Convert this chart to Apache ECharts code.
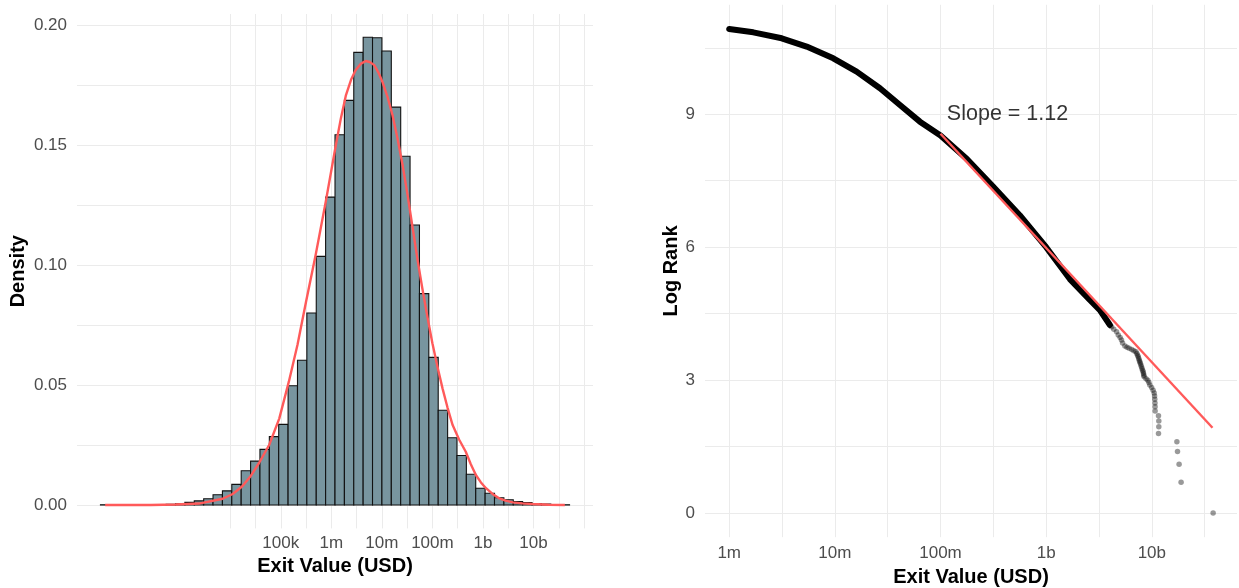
<!DOCTYPE html>
<html>
<head>
<meta charset="utf-8">
<script src="https://cdn.jsdelivr.net/npm/echarts@6/dist/echarts.min.js"></script>
<style>
    html, body { margin: 0; padding: 0; background: #ffffff; }
    #chart { width: 1239px; height: 588px; }
</style>
</head>
<body>
<div id="chart"></div>
<script>
// ---- left panel: histogram of exit values (x in log10 USD, density per ln unit)
const binWidth = 0.1856
const binCenters = [
    1.526, 1.712, 1.897, 2.083, 2.268, 2.454, 2.640, 2.825, 3.011, 3.196,
    3.382, 3.568, 3.753, 3.939, 4.124, 4.310, 4.496, 4.681, 4.867, 5.052,
    5.238, 5.424, 5.609, 5.795, 5.980, 6.166, 6.352, 6.537, 6.723, 6.908,
    7.094, 7.280, 7.465, 7.651, 7.836, 8.022, 8.208, 8.393, 8.579, 8.764,
    8.950, 9.136, 9.321, 9.507, 9.692, 9.878, 10.064, 10.249, 10.435, 10.620
]
const binDensity = [
    0.0001, 0, 0, 0, 0, 0, 0.0002, 0.0003, 0.0005, 0.0011,
    0.0017, 0.0026, 0.0043, 0.0059, 0.0086, 0.0143, 0.0183, 0.0232, 0.0285, 0.0336,
    0.0497, 0.0603, 0.0800, 0.1036, 0.1283, 0.1543, 0.1686, 0.1886, 0.1949, 0.1947,
    0.1892, 0.1658, 0.1453, 0.1167, 0.0881, 0.0615, 0.0395, 0.0280, 0.0206, 0.0128,
    0.0070, 0.0049, 0.0030, 0.0022, 0.0014, 0.0010, 0.0006, 0.0004, 0.0002, 0.0001
]
// fitted density curve
const fitX = [1.526, 2.43, 2.92, 3.38, 3.85, 4.05, 4.24, 4.41, 4.57, 4.77, 4.97, 5.16, 5.33, 5.50, 5.69, 5.89,
    6.09, 6.19, 6.29, 6.39, 6.48, 6.58, 6.68, 6.76, 6.85, 6.93, 7.01, 7.11, 7.21, 7.31, 7.41, 7.51, 7.61,
    7.70, 7.80, 7.90, 8.00, 8.10, 8.20, 8.30, 8.40, 8.53, 8.66, 8.76, 8.86, 8.96, 9.06, 9.19, 9.32,
    9.45, 9.59, 9.78, 9.98, 10.3, 10.62]
const fitY = [0, 0.00003, 0.0002, 0.0006, 0.0026, 0.0046, 0.0078, 0.0122, 0.0175, 0.025, 0.036, 0.0514, 0.0667, 0.0847, 0.1042, 0.1264,
    0.150, 0.1612, 0.1708, 0.1772, 0.1812, 0.1838, 0.185, 0.1846, 0.1833, 0.1803, 0.1764, 0.1702, 0.1625, 0.1527, 0.1417, 0.1290, 0.1153,
    0.1030, 0.0903, 0.0785, 0.0674, 0.0576, 0.0486, 0.0405, 0.0333, 0.0272, 0.0222, 0.0170, 0.0125, 0.0094, 0.0070, 0.0046, 0.0028,
    0.0018, 0.0011, 0.0007, 0.0004, 0.0001, 0]

const histTicks = [5, 6, 7, 8, 9, 10]
const histTickLabels = ['100k', '1m', '10m', '100m', '1b', '10b']
const histGridX = [4, 4.5, 5, 5.5, 6, 6.5, 7, 7.5, 8, 8.5, 9, 9.5, 10, 10.5, 11]
const densityTicks = [0, 0.05, 0.1, 0.15, 0.2]
const densityGrid = [0, 0.025, 0.05, 0.075, 0.1, 0.125, 0.15, 0.175, 0.2]

// ---- right panel: log rank vs exit value (x in log10 USD)
const bandX = [6.0, 6.228, 6.497, 6.733, 6.985, 7.206, 7.427, 7.616, 7.805, 8.0,
    8.25, 8.5, 8.75, 9.0, 9.224, 9.413, 9.508, 9.603]
const bandY = [10.925, 10.85, 10.715, 10.527, 10.264, 9.963, 9.587, 9.21, 8.833, 8.52,
    7.99, 7.36, 6.72, 6.0, 5.28, 4.808, 4.582, 4.244]
const tailX = [9.619, 9.64, 9.666, 9.682, 9.70, 9.713, 9.723, 9.745, 9.765, 9.785, 9.81, 9.83, 9.849,
    9.858, 9.865, 9.871, 9.876, 9.881, 9.886, 9.891, 9.896, 9.902, 9.907, 9.912, 9.918, 9.921,
    9.924, 9.927, 9.945, 9.962, 9.972, 9.981, 9.998, 10.012, 10.022, 10.026, 10.028, 10.030,
    10.031, 10.031, 10.063, 10.066, 10.066, 10.063, 10.237, 10.243, 10.258, 10.277, 10.58]
const tailY = [4.206, 4.15, 4.093, 4.018, 3.96, 3.905, 3.84, 3.77, 3.74, 3.718, 3.69, 3.665, 3.641,
    3.60, 3.56, 3.528, 3.49, 3.45, 3.415, 3.38, 3.34, 3.302, 3.26, 3.225, 3.19, 3.15,
    3.11, 3.077, 3.03, 2.996, 2.944, 2.89, 2.833, 2.773, 2.708, 2.639, 2.565, 2.485,
    2.398, 2.303, 2.197, 2.079, 1.946, 1.792, 1.609, 1.386, 1.099, 0.693, 0]
const slopeLineX = [8.0, 10.574]
const slopeLineY = [8.56, 1.925]
const slopeText = 'Slope = 1.12'

const rankTicks = [6, 7, 8, 9, 10]
const rankTickLabels = ['1m', '10m', '100m', '1b', '10b']
const rankGridX = [6, 6.5, 7, 7.5, 8, 8.5, 9, 9.5, 10, 10.5]
const logRankTicks = [0, 3, 6, 9]
const logRankGrid = [0, 1.5, 3, 4.5, 6, 7.5, 9, 10.5]

const FONT = '"Liberation Sans", Arial, Helvetica, sans-serif'
const GRID_COLOR = '#EBEBEB'
const RED = '#FF5A5A'

function labelFor(ticks, labels) {
    return (v) => {
        for (let i = 0; i < ticks.length; ++i) {
            if (Math.abs(ticks[i] - v) < 1e-6) return labels[i]
        }
        return ''
    }
}

function xAxisBase(min, max, grid, ticks, labels, margin, gridIndex, nameGap) {
    return {
        type: 'value',
        gridIndex: gridIndex,
        min: min,
        max: max,
        name: 'Exit Value (USD)',
        nameLocation: 'middle',
        nameGap: nameGap,
        nameTextStyle: { color: '#000', fontSize: 20, fontWeight: 'bold', fontFamily: FONT },
        axisLine: { show: false },
        axisTick: { show: false, customValues: grid },
        axisLabel: {
            customValues: ticks,
            formatter: labelFor(ticks, labels),
            color: '#4D4D4D', fontSize: 17, fontFamily: FONT, margin: margin
        },
        splitLine: { show: true, lineStyle: { color: GRID_COLOR, width: 1 } }
    }
}

let chart = echarts.init(document.getElementById('chart'), null, { renderer: 'canvas' })

let options = {
    animation: false,
    backgroundColor: '#ffffff',
    grid: [
        { left: 77, top: 14, width: 516, height: 514.4, containLabel: false, outerBoundsMode: 'none' },
        { left: 705, top: 4.8, width: 532, height: 532.4, containLabel: false, outerBoundsMode: 'none' }
    ],
    xAxis: [
        xAxisBase(0.969, 11.177, histGridX, histTicks, histTickLabels, 6, 0, 28),
        xAxisBase(5.771, 10.806, rankGridX, rankTicks, rankTickLabels, 8, 1, 29)
    ],
    yAxis: [
        {
            type: 'value', gridIndex: 0, min: -0.00975, max: 0.2046,
            name: 'Density', nameLocation: 'middle', nameGap: 49, nameRotate: 90,
            nameTextStyle: { color: '#000', fontSize: 20, fontWeight: 'bold', fontFamily: FONT },
            axisLine: { show: false },
            axisTick: { show: false, customValues: densityGrid },
            axisLabel: {
                customValues: densityTicks,
                formatter: (v) => v.toFixed(2),
                color: '#4D4D4D', fontSize: 17, fontFamily: FONT, margin: 10
            },
            splitLine: { show: true, lineStyle: { color: GRID_COLOR, width: 1 } }
        },
        {
            type: 'value', gridIndex: 1, min: -0.546, max: 11.471,
            name: 'Log Rank', nameLocation: 'middle', nameGap: 24, nameRotate: 90,
            nameTextStyle: { color: '#000', fontSize: 20, fontWeight: 'bold', fontFamily: FONT },
            axisLine: { show: false },
            axisTick: { show: false, customValues: logRankGrid },
            axisLabel: {
                customValues: logRankTicks,
                formatter: (v) => String(Math.round(v)),
                color: '#4D4D4D', fontSize: 17, fontFamily: FONT, margin: 10
            },
            splitLine: { show: true, lineStyle: { color: GRID_COLOR, width: 1 } }
        }
    ],
    series: [
        {
            type: 'custom',
            xAxisIndex: 0, yAxisIndex: 0,
            clip: false,
            silent: true,
            data: binCenters.map((x, i) => [x, binDensity[i]]),
            renderItem: (params, api) => {
                const x = api.value(0)
                const y = api.value(1)
                const p0 = api.coord([x - binWidth / 2, y])
                const p1 = api.coord([x + binWidth / 2, 0])
                return {
                    type: 'rect',
                    shape: { x: p0[0], y: p0[1], width: p1[0] - p0[0], height: p1[1] - p0[1] },
                    style: { fill: '#78959F', stroke: '#111111', lineWidth: 1.1 }
                }
            }
        },
        {
            type: 'line',
            xAxisIndex: 0, yAxisIndex: 0,
            data: fitX.map((x, i) => [x, fitY[i]]),
            showSymbol: false,
            smooth: false,
            silent: true,
            lineStyle: { color: RED, width: 2.4, join: 'round' },
            z: 3
        },
        {
            type: 'line',
            xAxisIndex: 1, yAxisIndex: 1,
            data: bandX.map((x, i) => [x, bandY[i]]),
            showSymbol: false,
            smooth: false,
            silent: true,
            lineStyle: { color: '#000000', width: 6, cap: 'round', join: 'round' },
            z: 2
        },
        {
            type: 'scatter',
            xAxisIndex: 1, yAxisIndex: 1,
            data: tailX.map((x, i) => [x, tailY[i]]),
            symbolSize: 5.5,
            silent: true,
            itemStyle: { color: 'rgba(0,0,0,0.5)' },
            z: 2
        },
        {
            type: 'line',
            xAxisIndex: 1, yAxisIndex: 1,
            data: slopeLineX.map((x, i) => [x, slopeLineY[i]]),
            showSymbol: false,
            silent: true,
            lineStyle: { color: RED, width: 2.4 },
            z: 3
        },
        {
            type: 'scatter',
            xAxisIndex: 1, yAxisIndex: 1,
            data: [[8.06, 9.0]],
            symbolSize: 0,
            silent: true,
            label: {
                show: true,
                position: 'right',
                distance: 0,
                formatter: slopeText,
                color: '#000', fontSize: 21.5, fontFamily: FONT
            },
            z: 4
        }
    ]
}

chart.setOption(options)
</script>
</body>
</html>
